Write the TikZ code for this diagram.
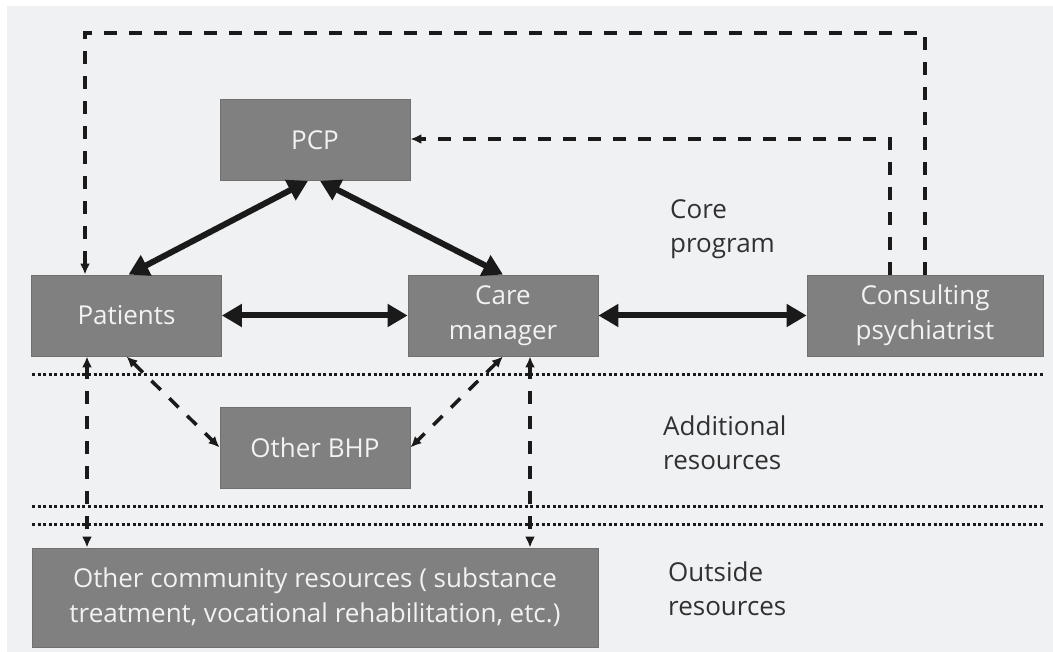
\documentclass[tikz,border=0pt]{standalone}
\usepackage{fontspec}
\setmainfont{Open Sans}
\usetikzlibrary{arrows.meta,positioning}
\definecolor{bggray}{HTML}{F0F1F3}
\definecolor{boxgray}{HTML}{808080}
\definecolor{boxedge}{HTML}{707070}
\definecolor{boxtext}{HTML}{F2F2F2}
\definecolor{ink}{HTML}{1A1A1A}
\begin{document}
\begin{tikzpicture}[x=1pt,y=-1pt,
  box/.style={draw=boxedge, fill=boxgray, text=boxtext, line width=0.8pt,
    minimum width=190pt, minimum height=81pt, inner sep=0pt, align=center,
    font=\fontsize{26}{35}\selectfont},
  lbl/.style={text=ink!90, align=left, anchor=west, inner sep=0pt,
    font=\fontsize{26}{34}\selectfont},
  strong/.style={draw=ink, line width=6pt,
    {Triangle[length=20pt,width=22pt]}-{Triangle[length=20pt,width=22pt]}},
  weak/.style={draw=ink, line width=3.5pt, dash pattern=on 13pt off 12pt,
    -{Latex[length=11pt,width=10pt]}},
  weakboth/.style={weak, {Latex[length=11pt,width=10pt]}-{Latex[length=11pt,width=10pt]}},
  sep/.style={draw=ink, line width=3pt, dash pattern=on 3pt off 2.6pt}]
  \fill[white] (0,0) rectangle (1053,652);
  \fill[bggray] (7,6) rectangle (1053,652);
  % boxes
  \node[box] (pcp) at (315,140) {PCP};
  \node[box] (pat) at (126.5,315.5) {Patients};
  \node[box] (cm) at (503,315.5) {Care\\manager};
  \node[box, minimum width=236pt] (psy) at (925,315.5) {Consulting\\psychiatrist};
  \node[box] (bhp) at (315,447.5) {Other BHP};
  \node[box, minimum width=566pt, minimum height=99pt] (com) at (315,597.5)
    {Other community resources ( substance\\treatment, vocational rehabilitation, etc.)};
  % tier labels
  \node[lbl] (core) at (670,229) {Core\\program};
  \node[lbl] (addl) at (663,443) {Additional\\resources};
  \node[lbl] (outs) at (668,589) {Outside\\resources};
  % tier separators
  \draw[sep] (32,375) -- (1043,375);
  \draw[sep] (32,506) -- (1043,506);
  \draw[sep] (32,524) -- (1043,524);
  % core links
  \draw[strong] ([xshift=-7pt]pcp.south) -- ([xshift=2pt]pat.north);
  \draw[strong] ([xshift=5pt]pcp.south) -- (cm.north);
  \draw[strong] (pat.east) -- (cm.west);
  \draw[strong] (cm.east) -- (psy.west);
  % psychiatrist feedback
  \coordinate (topR) at (925,33);
  \coordinate (topL) at (85,33);
  \coordinate (pcpR) at (890,139);
  \draw[weak] (psy.north) -- (topR) -- (topL) -- (topL |- pat.north);
  \draw[weak] (pcpR |- psy.north) -- (pcpR) -- (pcp.east |- pcpR);
  % additional and outside resources
  \draw[weakboth] (pat.south) -- (bhp.west);
  \draw[weakboth] (cm.south) -- (bhp.east);
  \coordinate (patdrop) at (87,0);
  \coordinate (cmdrop) at (530,0);
  \draw[weakboth] (patdrop |- pat.south) -- (patdrop |- com.north);
  \draw[weakboth] (cmdrop |- cm.south) -- (cmdrop |- com.north);
\end{tikzpicture}
\end{document}
